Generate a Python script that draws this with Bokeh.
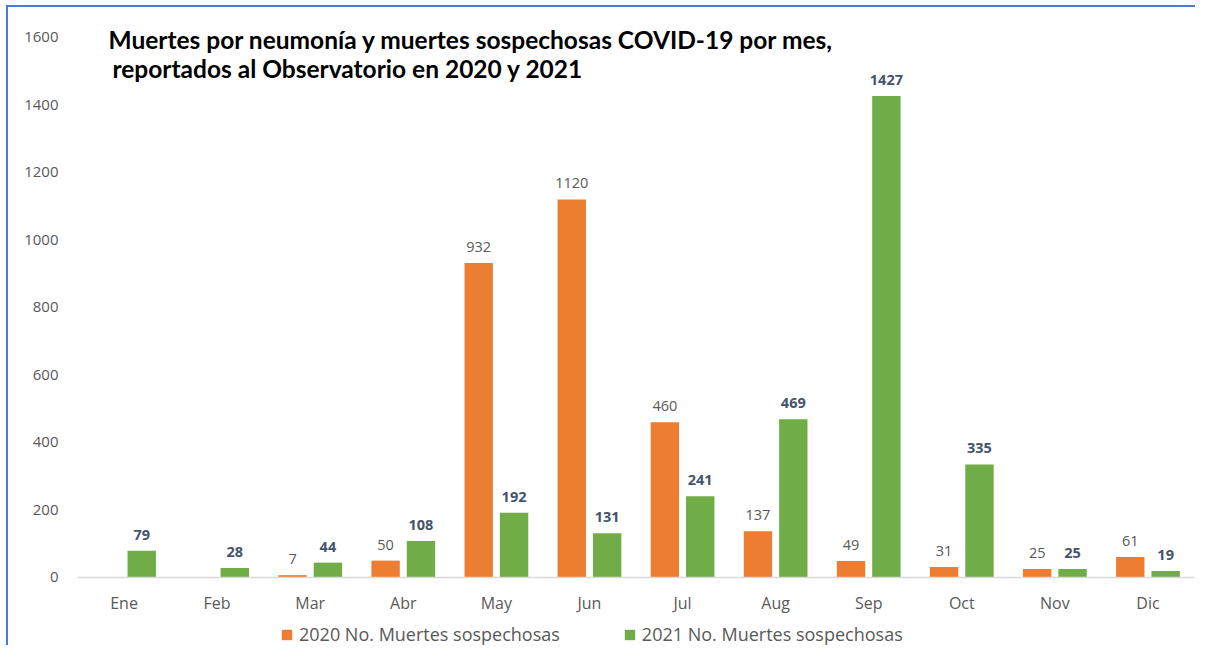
from bokeh.plotting import figure
from bokeh.models import (ColumnDataSource, FactorRange, Range1d, FixedTicker, Label,
                          Legend, LegendItem, LabelSet, InlineStyleSheet)
from bokeh.transform import dodge
from bokeh.core.properties import value
from bokeh.embed import file_html
from bokeh.resources import INLINE

months = ["Ene", "Feb", "Mar", "Abr", "May", "Jun", "Jul", "Aug", "Sep", "Oct", "Nov", "Dic"]
v2020 = [None, None, 7, 50, 932, 1120, 460, 137, 49, 31, 25, 61]
v2021 = [79, 28, 44, 108, 192, 131, 241, 469, 1427, 335, 25, 19]
y_ticks = [0, 200, 400, 600, 800, 1000, 1200, 1400, 1600]
series_names = ["2020 No. Muertes sospechosas", "2021 No. Muertes sospechosas"]
title_lines = ["Muertes por neumonía y muertes sospechosas COVID-19 por mes,",
               "reportados al Observatorio en 2020 y 2021"]

ORANGE = "#ED7D31"
GREEN = "#70AD47"
GRAY = "#595959"

src20 = ColumnDataSource(dict(
    m=[m for m, v in zip(months, v2020) if v is not None],
    v=[v for v in v2020 if v is not None],
    t=[str(v) for v in v2020 if v is not None]))
src21 = ColumnDataSource(dict(m=months, v=v2021, t=[str(v) for v in v2021]))

# frame covers the full height so the title, axis labels and legend sit inside it
p = figure(width=1195, height=645, x_range=FactorRange(factors=months, range_padding=0),
           y_range=Range1d(-201.5, 1709.6), output_backend="svg", toolbar_location=None,
           min_border_left=77, min_border_right=1, min_border_top=0, min_border_bottom=0)
p.outline_line_color = None
p.xgrid.grid_line_color = None
p.ygrid.grid_line_color = None
p.border_fill_color = None
p.background_fill_color = None

off = 0.19
w = 0.305
r20 = p.vbar(x=dodge("m", -off, range=p.x_range), top="v", width=w, source=src20,
             fill_color=ORANGE, line_color=None)
r21 = p.vbar(x=dodge("m", off, range=p.x_range), top="v", width=w, source=src21,
             fill_color=GREEN, line_color=None)

p.add_layout(LabelSet(x=dodge("m", -off, range=p.x_range), y="v", text="t", source=src20,
                      text_align="center", text_baseline="bottom", y_offset=11,
                      text_font=value("Open Sans"), text_font_size="14.5px", text_color=GRAY))
p.add_layout(LabelSet(x=dodge("m", off, range=p.x_range), y="v", text="t", source=src21,
                      text_align="center", text_baseline="bottom", y_offset=11,
                      text_font=value("Open Sans"), text_font_size="14.5px",
                      text_font_style="bold", text_color="#44546A"))

# axes
p.yaxis.ticker = FixedTicker(ticks=y_ticks)
p.yaxis.axis_line_color = None
p.yaxis.major_tick_line_color = None
p.yaxis.minor_tick_line_color = None
p.yaxis.major_tick_out = 0
p.yaxis.major_label_standoff = 19
p.yaxis.major_label_text_font = "Open Sans"
p.yaxis.major_label_text_font_size = "15px"
p.yaxis.major_label_text_color = GRAY

p.xaxis.fixed_location = 0
p.xaxis.axis_line_color = "#D9D9D9"
p.xaxis.axis_line_width = 1.5
p.xaxis.major_tick_line_color = None
p.xaxis.major_tick_out = 0
p.xaxis.major_label_standoff = 15
p.xaxis.major_label_text_font = "Open Sans"
p.xaxis.major_label_text_font_size = "16px"
p.xaxis.major_label_text_color = GRAY

# title
p.add_layout(Label(x=31, y=606, x_units="screen", y_units="screen", text=title_lines[0],
                   text_font="Lato", text_font_size="24.5px", text_font_style="bold",
                   text_color="#000000", text_baseline="middle"))
p.add_layout(Label(x=35, y=577, x_units="screen", y_units="screen", text=title_lines[1],
                   text_font="Lato", text_font_size="24.5px", text_font_style="bold",
                   text_color="#000000", text_baseline="middle"))

legend = Legend(items=[LegendItem(label=series_names[0], renderers=[r20]),
                       LegendItem(label=series_names[1], renderers=[r21])],
                orientation="horizontal", location=(203, -1),
                padding=0, margin=0, spacing=63, glyph_width=13, glyph_height=13,
                label_standoff=6, label_text_font="Open Sans", label_text_font_size="18px",
                label_text_color=GRAY, background_fill_alpha=0, border_line_color=None)
p.add_layout(legend, "center")

p.stylesheets = [InlineStyleSheet(css=(
    ":host { background-color: white;"
    " background-image: linear-gradient(#4A7BD0, #4A7BD0), linear-gradient(#4A7BD0, #4A7BD0);"
    " background-size: calc(100% - 7px) 2px, 2px calc(100% - 5px);"
    " background-position: 7px 5px, 6px 5px;"
    " background-repeat: no-repeat, no-repeat; }"))]

open("out.html", "w").write(file_html(p, INLINE))
